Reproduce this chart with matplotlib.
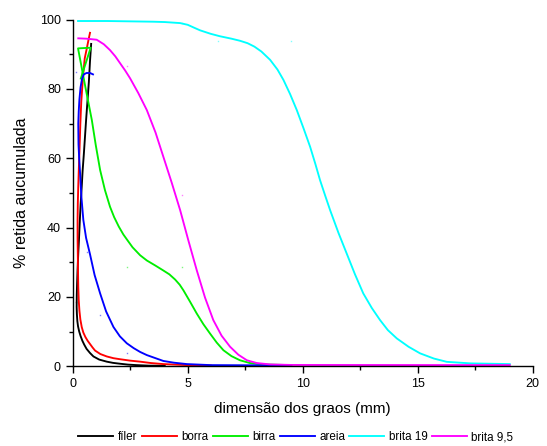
import matplotlib
matplotlib.use("Agg")
import matplotlib.pyplot as plt
from matplotlib.ticker import MultipleLocator

plt.rcParams['font.family'] = ['Liberation Sans', 'DejaVu Sans']

# curve points (x = mm, y = % retida acumulada)
filer_x = [0.80, 0.75, 0.70, 0.64, 0.58, 0.53, 0.48, 0.43, 0.39, 0.34, 0.30, 0.27, 0.24, 0.21, 0.19, 0.175, 0.17,
           0.18, 0.20, 0.23, 0.28, 0.34, 0.42, 0.50, 0.60, 0.75, 0.90, 1.15, 1.48, 1.75, 2.06, 2.40, 2.78, 3.3, 4.0]
filer_y = [93.0, 88.0, 82.0, 76.5, 71.0, 66.0, 61.0, 56.5, 51.8, 46.5, 41.0, 36.5, 32.6, 28.0, 24.0, 20.5, 17.1,
           15.0, 13.0, 11.5, 10.0, 8.7, 7.3, 6.2, 5.0, 3.8, 2.8, 1.9, 1.3, 0.95, 0.7, 0.45, 0.3, 0.15, 0.1]

borra_x = [0.75, 0.68, 0.62, 0.52, 0.44, 0.37, 0.33, 0.30, 0.27, 0.24, 0.22, 0.21, 0.21, 0.22, 0.23, 0.24, 0.26,
           0.29, 0.33, 0.39, 0.46, 0.55, 0.65, 0.75, 0.86, 0.97, 1.2, 1.48, 1.77, 2.06, 2.49, 2.93, 3.4, 3.94, 5.0, 6.0]
borra_y = [96.2, 94.0, 92.0, 88.8, 83.0, 76.3, 70.0, 63.8, 58.0, 52.0, 47.0, 42.0, 37.0, 32.0, 27.0, 22.9, 19.0,
           16.0, 13.5, 11.3, 9.7, 8.4, 7.3, 6.4, 5.4, 4.5, 3.5, 2.8, 2.3, 2.0, 1.6, 1.3, 0.9, 0.6, 0.3, 0.2]

birra_x = [0.35, 0.78, 0.23, 0.55, 0.83, 1.00, 1.19, 1.40, 1.62, 1.80, 2.00, 2.20, 2.35, 2.60, 2.93, 3.22, 3.60,
           3.94, 4.20, 4.45, 4.65, 4.81, 5.10, 5.39, 5.68, 5.97, 6.26, 6.55, 6.90, 7.27, 7.70, 8.3, 9.5]
birra_y = [83.0, 91.9, 91.7, 80.5, 71.0, 63.8, 56.6, 50.8, 46.0, 43.0, 40.3, 38.0, 36.6, 34.3, 32.0, 30.5, 29.0,
           27.6, 26.5, 25.0, 23.5, 21.9, 18.6, 15.2, 12.1, 9.4, 6.8, 4.6, 2.9, 1.7, 0.9, 0.5, 0.3]

areia_x = [0.88, 0.75, 0.60, 0.48, 0.40, 0.34, 0.29, 0.26, 0.24, 0.25, 0.28, 0.32, 0.38, 0.46, 0.58, 0.75, 0.95,
           1.19, 1.45, 1.77, 2.05, 2.35, 2.65, 2.93, 3.22, 3.60, 3.94, 4.40, 4.96, 6.0, 9.5]
areia_y = [84.2, 84.6, 84.6, 84.2, 82.8, 80.5, 77.0, 73.5, 70.0, 64.0, 60.0, 55.5, 48.5, 42.2, 37.0, 32.3, 26.3,
           21.0, 15.8, 11.3, 8.6, 6.6, 5.2, 4.1, 3.2, 2.3, 1.5, 1.0, 0.6, 0.3, 0.2]

brita19_x = [0.23, 1.5, 2.5, 3.5, 4.0, 4.67, 5.0, 5.3, 5.54, 6.0, 6.4, 6.9, 7.27, 7.6, 7.9, 8.2, 8.58, 8.9, 9.16,
             9.45, 9.74, 10.03, 10.32, 10.55, 10.75, 10.97, 11.19, 11.55, 11.91, 12.27, 12.63, 13.0, 13.36, 13.7,
             14.09, 14.6, 15.1, 15.7, 16.26, 17.3, 19.0]
brita19_y = [99.6, 99.6, 99.5, 99.4, 99.3, 99.0, 98.5, 97.6, 96.9, 95.9, 95.2, 94.5, 93.9, 93.2, 92.2, 90.8, 88.4,
             85.6, 82.6, 78.5, 73.9, 68.7, 63.3, 58.3, 53.7, 49.3, 45.0, 38.5, 32.5, 26.5, 21.0, 16.8, 13.3, 10.4,
             8.0, 5.6, 3.7, 2.2, 1.25, 0.8, 0.6]

brita95_x = [0.24, 0.6, 1.04, 1.35, 1.62, 1.85, 2.06, 2.28, 2.49, 2.85, 3.22, 3.6, 3.94, 4.3, 4.67, 5.03, 5.39,
             5.75, 6.11, 6.47, 6.84, 7.2, 7.57, 8.0, 8.58, 9.5, 19.0]
brita95_y = [94.6, 94.5, 94.2, 92.9, 91.2, 89.4, 87.4, 85.3, 83.1, 78.8, 73.9, 67.4, 60.4, 53.0, 45.0, 36.2, 27.7,
             19.8, 13.3, 8.8, 5.6, 3.3, 1.7, 0.9, 0.5, 0.35, 0.3]

# small measured points visible under the curves
pts_x = {"areia": [0.15, 0.6, 1.19, 2.36], "birra": [2.36, 4.75], "brita 19": [4.75, 6.3, 9.5],
         "brita 9,5": [2.36, 4.75], "fíler": [0.15]}
pts_y = {"areia": [85.0, 33.0, 14.7, 3.7], "birra": [28.7, 28.7], "brita 19": [99.0, 93.7, 93.7],
         "brita 9,5": [86.6, 49.4], "fíler": [18.6]}

series = [
    ("fíler", filer_x, filer_y, "#000000"),
    ("borra", borra_x, borra_y, "#ff0000"),
    ("birra", birra_x, birra_y, "#00ee00"),
    ("areia", areia_x, areia_y, "#0000ff"),
    ("brita 19", brita19_x, brita19_y, "#00ffff"),
    ("brita 9,5", brita95_x, brita95_y, "#ff00ff"),
]

fig = plt.figure(figsize=(5.47, 4.46), dpi=100)
ax = fig.add_axes([0.133, 0.179, 0.841, 0.777])

for name, xs, ys, col in series:
    ax.plot(xs, ys, color=col, lw=1.35, label=name, solid_joinstyle="round")
    if name in pts_x:
        ax.plot(pts_x[name], pts_y[name], ls="none", marker="s", ms=1.0, mew=0, color=col, alpha=0.5)

ax.set_xlim(0, 20)
ax.set_ylim(0, 100)
ax.xaxis.set_major_locator(MultipleLocator(5))
ax.xaxis.set_minor_locator(MultipleLocator(2.5))
ax.yaxis.set_major_locator(MultipleLocator(20))
ax.yaxis.set_minor_locator(MultipleLocator(10))
ax.spines["top"].set_visible(False)
ax.spines["right"].set_visible(False)
for s in ("left", "bottom"):
    ax.spines[s].set_linewidth(1.0)
ax.tick_params(which="major", direction="out", length=5, width=1.0, labelsize=9)
ax.tick_params(which="minor", direction="out", length=3, width=1.0)

ax.set_xlabel("dimensão dos graos (mm)", fontsize=11, labelpad=9)
ax.set_ylabel("% retida aucumulada", fontsize=11.5, labelpad=8)

fig.legend(loc="center", bbox_to_anchor=(0.541, 0.02), ncol=6, frameon=False, fontsize=8.4,
           handlelength=3.0, handletextpad=0.4, columnspacing=0.35, borderaxespad=0)

fig.savefig("out.png", dpi=100)
